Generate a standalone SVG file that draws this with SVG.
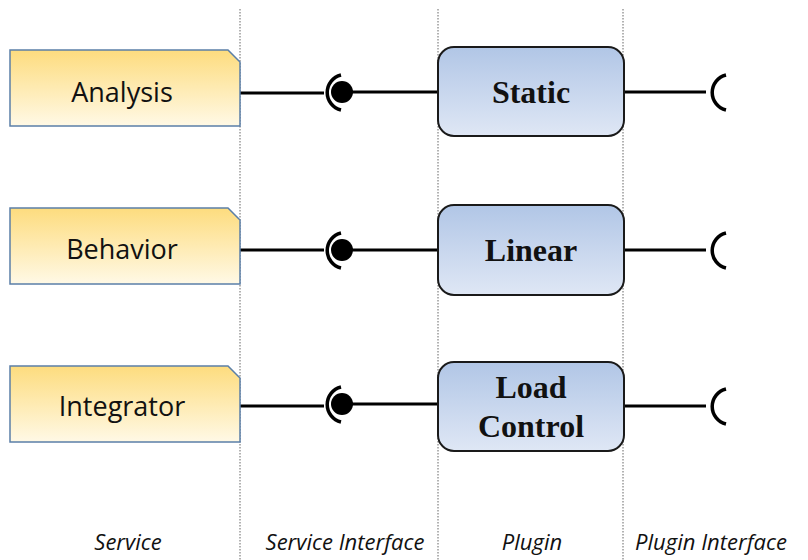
<svg xmlns="http://www.w3.org/2000/svg" width="808" height="560" viewBox="0 0 808 560">
<defs>
<linearGradient id="gS" x1="0" y1="0" x2="0" y2="1"><stop offset="0" stop-color="#FDDC7E"/><stop offset="1" stop-color="#FFF9E6"/></linearGradient>
<linearGradient id="gP" x1="0" y1="0" x2="0" y2="1"><stop offset="0" stop-color="#B1C6E6"/><stop offset="1" stop-color="#DFE7F5"/></linearGradient>
<style>
.svc{fill:url(#gS);stroke:#5B7FA8;stroke-width:1.5}
.plg{fill:url(#gP);stroke:#1a1a1a;stroke-width:2}
.st{font-family:"Open Sans","Liberation Sans",sans-serif;font-size:27px;fill:#111;text-anchor:middle}
.pt{font-family:"Liberation Serif",serif;font-weight:bold;font-size:32px;fill:#111;text-anchor:middle}
.lab{font-family:"Open Sans","Liberation Sans",sans-serif;font-style:italic;font-size:22px;fill:#111;text-anchor:middle}
.ln{stroke:#000;stroke-width:3;fill:none}
.arc{stroke:#000;stroke-width:3.5;fill:none}
.sep{stroke:#666;stroke-width:1;stroke-dasharray:1.5 1.5}
</style>
</defs>
<g id="separators">
<line class="sep" x1="240" y1="9" x2="240" y2="560"/>
<line class="sep" x1="438" y1="9" x2="438" y2="560"/>
<line class="sep" x1="623" y1="9" x2="623" y2="560"/>
</g>
<g id="connectors">
<line class="ln" x1="240" y1="93" x2="324" y2="93"/>
<line class="ln" x1="342" y1="92" x2="438" y2="92"/>
<path class="arc" d="M341 75 A18 18 0 0 0 341 110"/>
<circle cx="342" cy="92" r="11"/>
<line class="ln" x1="624" y1="92" x2="706" y2="92"/>
<path class="arc" d="M726 75 A18 18 0 0 0 726 110"/>

<line class="ln" x1="240" y1="250" x2="324" y2="250"/>
<line class="ln" x1="342" y1="250" x2="438" y2="250"/>
<path class="arc" d="M341 233 A18 18 0 0 0 341 268"/>
<circle cx="342" cy="250" r="11"/>
<line class="ln" x1="624" y1="250" x2="706" y2="250"/>
<path class="arc" d="M726 233 A18 18 0 0 0 726 268"/>

<line class="ln" x1="240" y1="406" x2="324" y2="406"/>
<line class="ln" x1="342" y1="404" x2="438" y2="404"/>
<path class="arc" d="M341 387 A18 18 0 0 0 341 422"/>
<circle cx="342" cy="404" r="11"/>
<line class="ln" x1="624" y1="406" x2="706" y2="406"/>
<path class="arc" d="M726 389 A18 18 0 0 0 726 424"/>
</g>
<g id="analysis">
<path class="svc" d="M10 50 H228 L240 62 V126 H10 Z"/>
<text class="st" x="122" y="102">Analysis</text>
</g>
<g id="behavior">
<path class="svc" d="M10 208 H228 L240 220 V284 H10 Z"/>
<text class="st" x="122" y="259">Behavior</text>
</g>
<g id="integrator">
<path class="svc" d="M10 366 H228 L240 378 V442 H10 Z"/>
<text class="st" x="122" y="416">Integrator</text>
</g>
<g id="static">
<rect class="plg" x="438" y="47" width="186" height="89" rx="16"/>
<text class="pt" x="531" y="103">Static</text>
</g>
<g id="linear">
<rect class="plg" x="438" y="205" width="186" height="90" rx="16"/>
<text class="pt" x="531" y="261">Linear</text>
</g>
<g id="loadcontrol">
<rect class="plg" x="438" y="362" width="186" height="89" rx="16"/>
<text class="pt" x="531" y="398">Load</text>
<text class="pt" x="531" y="437">Control</text>
</g>
<g id="labels">
<text class="lab" x="128" y="550">Service</text>
<text class="lab" x="345" y="550">Service Interface</text>
<text class="lab" x="532" y="550">Plugin</text>
<text class="lab" x="711" y="550">Plugin Interface</text>
</g>
</svg>
